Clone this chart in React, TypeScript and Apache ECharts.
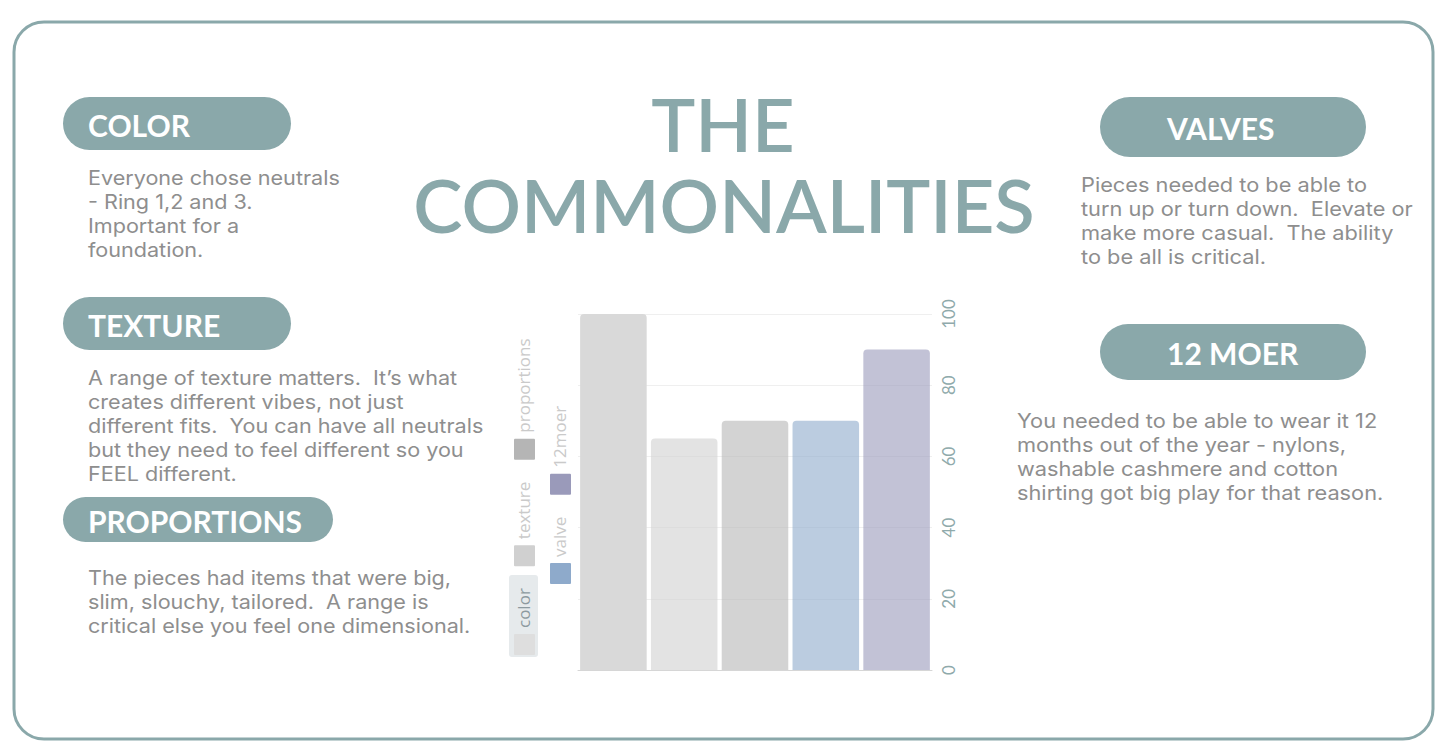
import React, { useEffect, useRef } from "react";
import * as echarts from "echarts";

const categories = ["color", "texture", "proportions", "valve", "12moer"];
const values = [100, 65, 70, 70, 90];
const swatchColors = ["#dedede", "#d0d0d0", "#b5b5b5", "#8eaacb", "#9a9aba"];
const barColors = ["#d9d9d9", "#d0d0d0", "#b5b5b5", "#8eaacb", "#9a9aba"];
const barOpacity = [1, 0.6, 0.6, 0.6, 0.6];
const yTicks = { min: 0, max: 100, interval: 20 };

const title = ["THE", "COMMONALITIES"];
const leftBlocks = [
  { head: "COLOR", body: ["Everyone chose neutrals", "- Ring 1,2 and 3.", "Important for a", "foundation."] },
  { head: "TEXTURE", body: ["A range of texture matters.  It\u2019s what", "creates different vibes, not just", "different fits.  You can have all neutrals", "but they need to feel different so you", "FEEL different."] },
  { head: "PROPORTIONS", body: ["The pieces had items that were big,", "slim, slouchy, tailored.  A range is", "critical else you feel one dimensional."] },
];
const rightBlocks = [
  { head: "VALVES", body: ["Pieces needed to be able to", "turn up or turn down.  Elevate or", "make more casual.  The ability", "to be all is critical."] },
  { head: "12 MOER", body: ["You needed to be able to wear it 12", "months out of the year - nylons,", "washable cashmere and cotton", "shirting got big play for that reason."] },
];

const TEAL = "#8aa8aa";
const BODY = "#8e8e8e";
const FONT = "Lato, 'Noto Sans', sans-serif";
const BFONT = "Inter, 'Noto Sans', sans-serif";
const LFONT = "'Open Sans', 'Noto Sans', sans-serif";

function measure(text: string, font: string) {
  const c = document.createElement("canvas").getContext("2d")!;
  c.font = font;
  return c.measureText(text).width;
}

export default function App() {
  const ref = useRef<HTMLDivElement>(null);
  useEffect(() => {
    const chart = echarts.init(ref.current!, undefined, { renderer: "svg" });
    const graphics: any[] = [];
    graphics.push({
      type: "rect",
      shape: { x: 14, y: 22, width: 1419, height: 717, r: 30 },
      style: { fill: "#fff", stroke: TEAL, lineWidth: 3 },
      z: -10,
    });
    graphics.push({
      type: "text",
      x: 723,
      y: 123,
      style: { text: title[0], fill: TEAL, font: `600 74px ${FONT}`, textAlign: "center", textVerticalAlign: "middle" },
    });
    graphics.push({
      type: "text",
      x: 724,
      y: 204,
      style: { text: title[1], fill: TEAL, font: `600 74px ${FONT}`, textAlign: "center", textVerticalAlign: "middle" },
    });

    const pill = (x: number, y: number, w: number, h: number, text: string, tx: number) => {
      graphics.push({
        type: "rect",
        shape: { x, y, width: w, height: h, r: h / 2 },
        style: { fill: TEAL },
      });
      graphics.push({
        type: "text",
        x: tx,
        y: y + h / 2 + 1,
        style: { text, fill: "#fff", font: `bold 30px ${FONT}`, textAlign: "left", textVerticalAlign: "middle" },
      });
    };
    const body = (x: number, y: number, lines: string[], sx: number) => {
      lines.forEach((line, k) => {
        graphics.push({
          type: "text",
          x,
          y: y + k * 24 + 12,
          scaleX: sx,
          style: { text: line, fill: BODY, font: `19.8px ${BFONT}`, textAlign: "left", textVerticalAlign: "middle" },
        });
      });
    };

    pill(63, 97, 228, 53, leftBlocks[0].head, 88);
    body(88, 166, leftBlocks[0].body, 1.09);
    pill(63, 297, 228, 53, leftBlocks[1].head, 88);
    body(88, 366, leftBlocks[1].body, 1.09);
    pill(63, 497, 270, 45, leftBlocks[2].head, 88);
    body(88, 566, leftBlocks[2].body, 1.09);

    pill(1100, 97, 266, 60, rightBlocks[0].head, 1167);
    body(1081, 173, rightBlocks[0].body, 1.1);
    pill(1100, 324, 266, 56, rightBlocks[1].head, 1167);
    body(1017, 409, rightBlocks[1].body, 1.1);

    // legend (rotated, as in the reference)
    const legFont = `17px ${LFONT}`;
    const cols = [
      { x: 524, idx: [0, 1, 2], start: 655 },
      { x: 560, idx: [3, 4], start: 584 },
    ];
    cols.forEach((col) => {
      let yb = col.start;
      col.idx.forEach((i) => {
        const tw = measure(categories[i], legFont);
        if (i === 0) {
          graphics.push({
            type: "rect",
            shape: { x: 509, y: 575, width: 29, height: 82, r: 3 },
            style: { fill: "#e6eaec" },
          });
        }
        graphics.push({
          type: "rect",
          shape: { x: col.x - 10, y: yb - 21, width: 21, height: 21, r: 1 },
          style: { fill: swatchColors[i] },
        });
        graphics.push({
          type: "text",
          x: col.x - 1,
          y: yb - 27,
          rotation: Math.PI / 2,
          style: {
            text: categories[i],
            fill: i === 0 ? "#8d9a9f" : "#cacaca",
            font: legFont,
            textAlign: "left",
            textVerticalAlign: "middle",
          },
        });
        yb = yb - 27 - tw - 22;
      });
    });

    chart.setOption({
      animation: false,
      grid: { left: 578, top: 314, width: 354, height: 356, containLabel: false },
      xAxis: {
        type: "category",
        data: categories,
        axisLabel: { show: false },
        axisTick: { show: false },
        axisLine: { lineStyle: { color: "#d6d6d6", width: 1 } },
      },
      yAxis: {
        type: "value",
        position: "right",
        min: yTicks.min,
        max: yTicks.max,
        interval: yTicks.interval,
        axisLabel: { rotate: 90, color: "#8faaab", fontSize: 17, fontFamily: FONT, margin: 8 },
        splitLine: { lineStyle: { color: "#efefef" } },
        axisLine: { show: false },
        axisTick: { show: false },
      },
      series: [
        {
          type: "bar",
          barCategoryGap: "6%",
          data: values.map((v, i) => ({
            value: v,
            itemStyle: { color: barColors[i], opacity: barOpacity[i], borderRadius: [4, 4, 0, 0] },
          })),
        },
      ],
      graphic: graphics,
    });
    return () => chart.dispose();
  }, []);
  return <div ref={ref} style={{ position: "absolute", left: 0, top: 0, width: 1456, height: 747 }} />;
}
